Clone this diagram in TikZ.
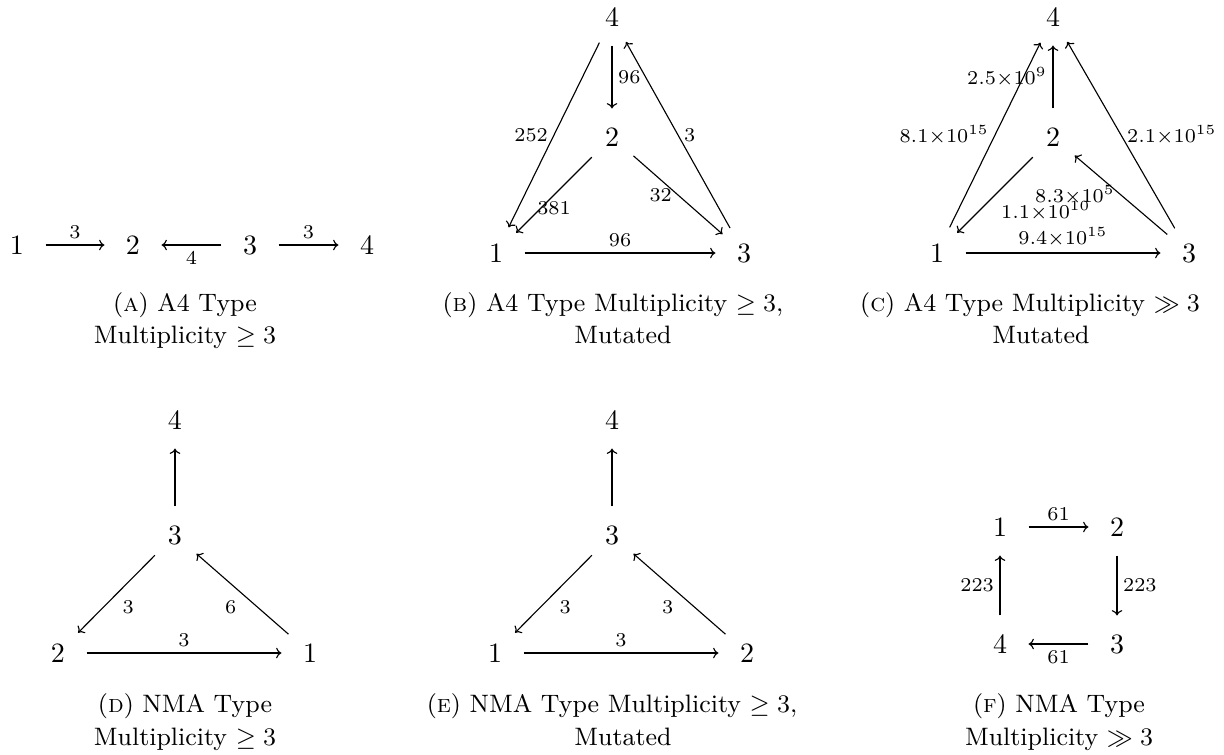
\documentclass[tikz,border=0pt]{standalone}
\usetikzlibrary{arrows.meta}
\tikzset{
  vtx/.style={circle,inner sep=0pt,minimum size=20pt},
  wt/.style={font=\scriptsize,inner sep=2pt},
  capt/.style={font=\small,inner sep=0pt,anchor=base},
  quiv/.style={-{Computer Modern Rightarrow[width=3.8pt,length=1.9pt]}}
}
\begin{document}
\begin{tikzpicture}[x=0.357pt,y=-0.357pt]
      \useasboundingbox (0,0) rectangle (1224,754);
      %% (a) a line of four
      \node[vtx] (a1) at (17,245) {1};
      \node[vtx] (a2) at (133,245) {2};
      \node[vtx] (a3) at (250,245) {3};
      \node[vtx] (a4) at (367,245) {4};
      \draw[quiv] (a1) -- node[wt,above] {3} (a2);
      \draw[quiv] (a3) -- node[wt,below] {4} (a2);
      \draw[quiv] (a3) -- node[wt,above] {3} (a4);
      \node[capt] (capA) at (185,311) {(\textsc{a}) A4 Type};
      \node[capt] (capAb) at (185,343) {Multiplicity $\geq 3$};

      %% (b)
      \node[vtx] (b4) at (612,17) {4};
      \node[vtx] (b2) at (612,137) {2};
      \node[vtx] (b1) at (496,253) {1};
      \node[vtx] (b3) at (744,253) {3};
      \draw[quiv] (b4) -- node[wt,anchor=east] {252} (b1);
      \draw[quiv] (b4) -- node[wt,anchor=west] {96} (b2);
      \draw[quiv] (b3) -- node[wt,anchor=west] {3} (b4);
      \draw[quiv] (b2) -- node[wt,anchor=north] {381} (b1);
      \draw[quiv] (b2) -- node[wt,anchor=east] {32} (b3);
      \draw[quiv] (b1) -- node[wt,above] {96} (b3);
      \node[capt] (capB) at (613,311) {(\textsc{b}) A4 Type Multiplicity $\geq 3$,};
      \node[capt] (capBb) at (623,343) {Mutated};

      %% (c) weights are huge here
      \node[vtx] (c4) at (1053,17) {4};
      \node[vtx] (c2) at (1053,137) {2};
      \node[vtx] (c1) at (937,253) {1};
      \node[vtx] (c3) at (1189,253) {3};
      \draw[quiv] (c1) -- node[wt,anchor=east] {$8.1{\times}10^{15}$} (c4);
      \draw[quiv] (c2) -- node[wt,anchor=east] {$2.5{\times}10^{9}$} (c4);
      \draw[quiv] (c3) -- node[wt,anchor=west] {$2.1{\times}10^{15}$} (c4);
      \draw[quiv] (c2) -- node[wt,anchor=north west] {$1.1{\times}10^{10}$} (c1);
      \draw[quiv] (c3) -- node[wt,anchor=east] {$8.3{\times}10^{5}$} (c2);
      \draw[quiv] (c1) -- node[wt,above] {$9.4{\times}10^{15}$} (c3);
      \node[capt] (capC) at (1030,311) {(\textsc{c}) A4 Type Multiplicity $\gg 3$};
      \node[capt] (capCb) at (1041,343) {Mutated};

      %% (d)
      \node[vtx] (d4) at (175,420) {4};
      \node[vtx] (d3) at (175,535) {3};
      \node[vtx] (d2) at (58,653) {2};
      \node[vtx] (d1) at (310,653) {1};
      \draw[quiv] (d3) -- (d4);
      \draw[quiv] (d3) -- node[wt,anchor=north west] {3} (d2);
      \draw[quiv] (d1) -- node[wt,anchor=north east] {6} (d3);
      \draw[quiv] (d2) -- node[wt,above] {3} (d1);
      \node[capt] (capD) at (185,712) {(\textsc{d}) NMA Type};
      \node[capt] (capDb) at (185,745) {Multiplicity $\geq 3$};

      %% (e)
      \node[vtx] (e4) at (612,420) {4};
      \node[vtx] (e3) at (612,535) {3};
      \node[vtx] (e1) at (495,653) {1};
      \node[vtx] (e2) at (747,653) {2};
      \draw[quiv] (e3) -- (e4);
      \draw[quiv] (e3) -- node[wt,anchor=north west] {3} (e1);
      \draw[quiv] (e2) -- node[wt,anchor=north east] {3} (e3);
      \draw[quiv] (e1) -- node[wt,above] {3} (e2);
      \node[capt] (capE) at (612,712) {(\textsc{e}) NMA Type Multiplicity $\geq 3$,};
      \node[capt] (capEb) at (623,745) {Mutated};

      %% (f) the square
      \node[vtx] (f1) at (1000,527) {1};
      \node[vtx] (f2) at (1117,527) {2};
      \node[vtx] (f3) at (1117,644) {3};
      \node[vtx] (f4) at (1000,644) {4};
      \draw[quiv] (f1) -- node[wt,above] {61} (f2);
      \draw[quiv] (f2) -- node[wt,anchor=west] {223} (f3);
      \draw[quiv] (f3) -- node[wt,below] {61} (f4);
      \draw[quiv] (f4) -- node[wt,anchor=east] {223} (f1);
      \node[capt] (capF) at (1059,712) {(\textsc{f}) NMA Type};
      \node[capt] (capFb) at (1059,745) {Multiplicity $\gg 3$};
\end{tikzpicture}
\end{document}
